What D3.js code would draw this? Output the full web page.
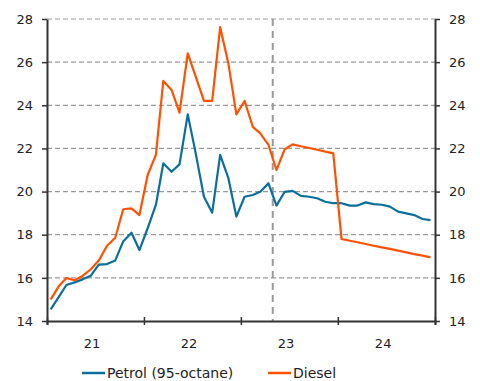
<!DOCTYPE html>
<html>
<head>
<meta charset="utf-8">
<script src="https://cdn.jsdelivr.net/npm/d3@7"></script>
<style>
  body { margin: 0; background: #fff; }
  svg text { font-family: "DejaVu Sans", Verdana, sans-serif; font-size: 13px; fill: #222; }
</style>
</head>
<body>
<svg width="480" height="381"></svg>
<script>
// monthly values, Jan 2021 - Dec 2024
var petrol = [14.54, 15.13, 15.67, 15.79, 15.93, 16.1, 16.61, 16.64, 16.81, 17.69, 18.09, 17.29,
  18.3, 19.38, 21.31, 20.92, 21.26, 23.58, 21.77, 19.76, 19.02, 21.7, 20.62, 18.84,
  19.76, 19.84, 19.99, 20.38, 19.35, 19.99, 20.03, 19.8, 19.76, 19.69, 19.53, 19.46,
  19.46, 19.35, 19.35, 19.5, 19.42, 19.39, 19.3, 19.07, 18.99, 18.91, 18.73, 18.68];
var diesel = [15.0, 15.62, 15.99, 15.89, 16.09, 16.4, 16.8, 17.49, 17.86, 19.18, 19.22, 18.91,
  20.77, 21.7, 25.13, 24.71, 23.66, 26.41, 25.33, 24.2, 24.2, 27.62, 25.94, 23.58,
  24.2, 23.0, 22.7, 22.16, 21.0, 21.96, 22.19, 22.1, 22.02, 21.94, 21.85, 21.77,
  17.8, 17.72, 17.65, 17.57, 17.49, 17.41, 17.34, 17.26, 17.18, 17.1, 17.03, 16.95];
var yTicks = [14, 16, 18, 20, 22, 24, 26, 28];
var yearLabels = ["21", "22", "23", "24"];
var seriesNames = ["Petrol (95-octane)", "Diesel"];
var colors = ["#0b6f9b", "#ff5100"];
var markerDate = new Date(2023, 4, 1);

var svg = d3.select("svg");
var pl = 47, pr = 435, pt = 19, pb = 321;

var months = d3.timeMonth.range(new Date(2021, 0, 1), new Date(2025, 0, 1))
  .map(function(d) { return d3.timeDay.offset(d, 14); });

var x = d3.scaleTime()
  .domain([new Date(2021, 0, 1), new Date(2025, 0, 1)])
  .range([pl, pr]);
var y = d3.scaleLinear().domain([14, 28]).range([pb, pt]);

// grid
svg.append("g").selectAll("line")
  .data(yTicks.slice(1))
  .enter().append("line")
    .attr("x1", pl).attr("x2", pr)
    .attr("y1", function(d) { return y(d); })
    .attr("y2", function(d) { return y(d); })
    .attr("stroke", "#999")
    .attr("stroke-width", 1.2)
    .attr("stroke-dasharray", "5,3");

svg.append("line")
  .attr("x1", x(markerDate)).attr("x2", x(markerDate))
  .attr("y1", pt).attr("y2", pb)
  .attr("stroke", "#999")
  .attr("stroke-width", 2)
  .attr("stroke-dasharray", "7,5");

// axes
var yearTicks = d3.timeYear.range(new Date(2021, 0, 1), new Date(2025, 0, 2));

var xAxis = svg.append("g")
  .attr("transform", "translate(0," + pb + ")")
  .call(d3.axisBottom(x).tickValues(yearTicks).tickSize(4).tickFormat(""));
xAxis.selectAll(".tick line").attr("y1", -4).attr("stroke", "#333").attr("stroke-width", 1.5);
xAxis.select(".domain").attr("stroke", "#333").attr("stroke-width", 2);

svg.append("g").selectAll("text")
  .data(yearLabels)
  .enter().append("text")
    .attr("x", function(d, i) { return x(new Date(2021 + i, 6, 1)) - 3; })
    .attr("y", pb + 27)
    .attr("text-anchor", "middle")
    .text(function(d) { return d; });

var yAxisL = svg.append("g")
  .attr("transform", "translate(" + pl + ",0)")
  .call(d3.axisLeft(y).tickValues(yTicks).tickSize(5).tickSizeOuter(0).tickPadding(9));
var yAxisR = svg.append("g")
  .attr("transform", "translate(" + pr + ",0)")
  .call(d3.axisRight(y).tickValues(yTicks).tickSize(5).tickSizeOuter(0).tickPadding(9));
[yAxisL, yAxisR].forEach(function(a) {
  a.select(".domain").attr("stroke", "#333").attr("stroke-width", 2);
  a.selectAll(".tick line").attr("stroke", "#333").attr("stroke-width", 1.5);
  a.selectAll(".tick text").style("font-size", "13px").attr("fill", "#222");
});

// lines
var line = d3.line()
  .x(function(d, i) { return x(months[i]); })
  .y(function(d) { return y(d); });

[petrol, diesel].forEach(function(s, i) {
  svg.append("path")
    .datum(s)
    .attr("fill", "none")
    .attr("stroke", colors[i])
    .attr("stroke-width", 2.2)
    .attr("stroke-linejoin", "round")
    .attr("d", line);
});

// legend
var legendX = [82, 268];
var legend = svg.append("g").selectAll("g")
  .data(seriesNames)
  .enter().append("g")
    .attr("transform", function(d, i) { return "translate(" + legendX[i] + ",373)"; });
legend.append("line")
  .attr("x1", 0).attr("x2", 23)
  .attr("stroke", function(d, i) { return colors[i]; })
  .attr("stroke-width", 2.5);
legend.append("text")
  .attr("x", 25)
  .attr("dy", "0.35em")
  .style("font-size", "14px")
  .text(function(d) { return d; });
</script>
</body>
</html>
